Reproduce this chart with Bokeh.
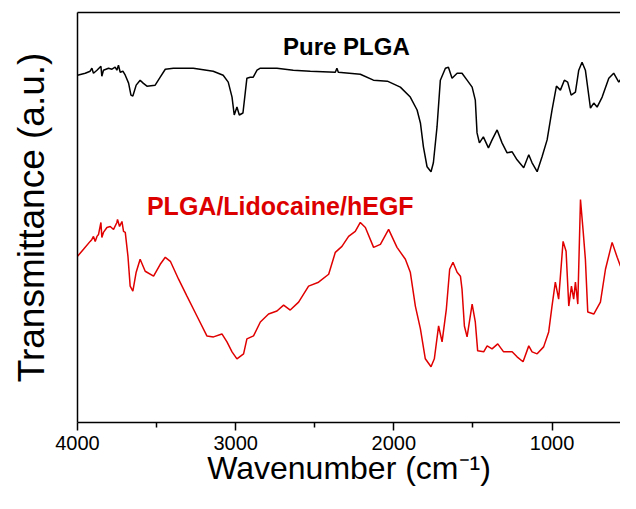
from bokeh.plotting import figure
from bokeh.models import Range1d, LinearAxis, FixedTicker, Label
from bokeh.embed import file_html
from bokeh.resources import INLINE

# ---- data ----
plga_wn = [4000, 3951, 3920, 3909, 3899, 3877, 3852, 3846, 3836, 3804, 3782, 3762, 3751, 3741, 3730,
           3713, 3698, 3677, 3662, 3650, 3629, 3604, 3585, 3561, 3509, 3477, 3445, 3394, 3268, 3142,
           3079, 3047, 3023, 3009, 2992, 2977, 2954, 2939, 2929, 2908, 2889, 2865, 2844, 2739, 2636,
           2528, 2370, 2360, 2351, 2212, 2129, 2041, 1959, 1896, 1853, 1832, 1813, 1790, 1765, 1750,
           1727, 1706, 1674, 1655, 1632, 1600, 1569, 1537, 1505, 1485, 1474, 1459, 1434, 1402, 1379,
           1347, 1316, 1284, 1252, 1221, 1179, 1147, 1126, 1094, 1063, 1031, 1000, 972, 947, 922,
           901, 879, 852, 831, 810, 789, 757, 736, 715, 683, 641, 610, 578, 557, 529, 493, 466]
plga_t = [349, 351, 353, 356, 351, 354, 358, 348, 354, 356, 355, 357, 354, 359, 352,
          353, 349, 341, 329, 328, 339, 344, 341, 338, 339, 347, 355, 356, 356, 353,
          349, 342, 327, 309, 317, 309, 311, 332, 346, 347, 347, 354, 356, 356, 354,
          353, 352, 356, 352, 350, 344, 343, 337, 327, 314, 301, 277, 257, 252, 261,
          297, 344, 356, 357, 346, 351, 351, 344, 337, 324, 291, 281, 287, 276, 284,
          294, 281, 271, 272, 264, 256, 269, 261, 252, 267, 284, 314, 338, 334, 344,
          342, 329, 332, 354, 362, 354, 316, 321, 317, 327, 346, 351, 342, 347, 357, 354, 347]

drug_wn = [4000, 3962, 3920, 3909, 3899, 3888, 3877, 3867, 3852, 3846, 3836, 3814, 3793, 3772, 3751,
           3747, 3734, 3719, 3709, 3698, 3681, 3667, 3650, 3629, 3604, 3572, 3519, 3477, 3445, 3413,
           3361, 3308, 3245, 3182, 3140, 3087, 3055, 3023, 2992, 2950, 2929, 2887, 2844, 2792, 2739,
           2697, 2655, 2602, 2539, 2476, 2412, 2370, 2328, 2286, 2244, 2212, 2180, 2128, 2085, 2033,
           1980, 1927, 1896, 1864, 1832, 1801, 1765, 1744, 1717, 1695, 1668, 1647, 1626, 1600, 1579,
           1569, 1554, 1537, 1505, 1485, 1470, 1432, 1410, 1379, 1343, 1306, 1252, 1221, 1183, 1147,
           1126, 1094, 1053, 1021, 1000, 979, 958, 930, 911, 894, 877, 863, 852, 837, 820,
           803, 789, 774, 736, 694, 662, 620, 588, 567, 547, 525, 504, 483, 466]
drug_t = [167, 174, 182, 184, 187, 182, 187, 189, 201, 186, 191, 196, 197, 194, 201,
          204, 197, 202, 192, 191, 167, 137, 132, 151, 164, 152, 147, 159, 166, 162,
          144, 127, 107, 87, 86, 89, 81, 71, 64, 69, 84, 87, 101, 109, 112,
          118, 113, 121, 137, 141, 149, 171, 177, 187, 192, 201, 196, 176, 179, 194,
          176, 164, 151, 117, 94, 64, 56, 64, 97, 81, 114, 154, 161, 151, 147,
          134, 97, 86, 119, 101, 72, 71, 77, 74, 79, 71, 71, 66, 61, 77,
          71, 69, 76, 91, 117, 141, 124, 182, 172, 117, 137, 124, 141, 119, 224,
          192, 164, 111, 109, 121, 154, 181, 166, 157, 187, 186, 199, 184, 169]

x_major_ticks = [4000, 3000, 2000, 1000]
x_minor_ticks = [3500, 2500, 1500, 500]
x_tick_labels = {4000: "4000", 3000: "3000", 2000: "2000", 1000: "1000"}

FONT = "Liberation Sans"

p = figure(width=620, height=493, output_backend="svg", toolbar_location=None,
           x_range=Range1d(4000, 567), y_range=Range1d(0, 412),
           x_axis_location=None, y_axis_location=None,
           min_border_left=77, min_border_top=12, min_border_bottom=71, min_border_right=0)
p.outline_line_color = None
p.grid.visible = False
p.background_fill_color = "white"
p.border_fill_color = "white"

# bottom axis
xa = LinearAxis(ticker=FixedTicker(ticks=x_major_ticks, minor_ticks=x_minor_ticks),
                major_label_overrides=x_tick_labels)
xa.axis_label = "Wavenumber (cm\u207b\u00b9)"
xa.axis_label_text_font = FONT
xa.axis_label_text_font_size = "32px"
xa.axis_label_text_font_style = "normal"
xa.axis_label_text_color = "black"
xa.axis_label_standoff = -3
xa.major_label_text_font = FONT
xa.major_label_text_font_size = "20px"
xa.major_label_text_color = "black"
xa.major_label_standoff = 5
xa.major_tick_in = 0
xa.major_tick_out = 8
xa.minor_tick_in = 0
xa.minor_tick_out = 5
xa.axis_line_width = 1.5
xa.major_tick_line_width = 1.5
xa.minor_tick_line_width = 1.5
p.add_layout(xa, "below")

# left axis (label only)
ya = LinearAxis(ticker=FixedTicker(ticks=[]))
ya.axis_label = "Transmittance (a.u.)"
ya.axis_label_text_font = FONT
ya.axis_label_text_font_size = "37px"
ya.axis_label_text_font_style = "normal"
ya.axis_label_text_color = "black"
ya.axis_label_standoff = 26
ya.major_tick_out = 0
ya.minor_tick_out = 0
ya.major_label_text_font_size = "0px"
ya.axis_line_width = 1.5
p.add_layout(ya, "left")

# top border line
ta = LinearAxis(ticker=FixedTicker(ticks=[]))
ta.major_tick_out = 0
ta.minor_tick_out = 0
ta.major_label_text_font_size = "0px"
ta.major_label_standoff = 0
ta.axis_line_width = 1.5
p.add_layout(ta, "above")

p.line(plga_wn, plga_t, line_color="black", line_width=1.5)
p.line(drug_wn, drug_t, line_color="#e00000", line_width=1.5)

p.add_layout(Label(x=2300, y=378, text="Pure PLGA", text_align="center",
                   text_baseline="alphabetic", text_font=FONT, text_font_size="24px",
                   text_font_style="bold", text_color="black"))
p.add_layout(Label(x=2718, y=218, text="PLGA/Lidocaine/hEGF", text_align="center",
                   text_baseline="alphabetic", text_font=FONT, text_font_size="25px",
                   text_font_style="bold", text_color="#dd0000"))

open("out.html", "w").write(file_html(p, INLINE))
